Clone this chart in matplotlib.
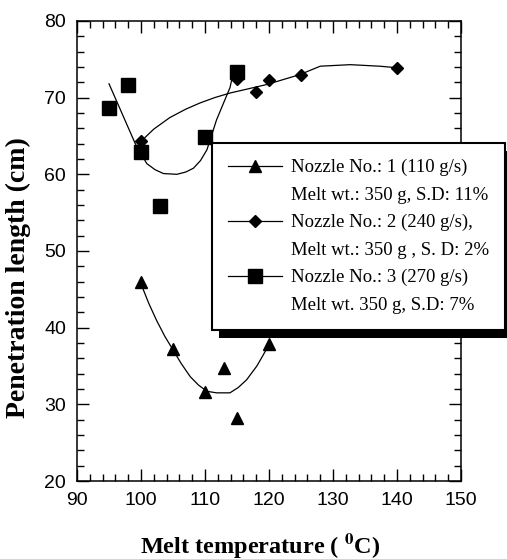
import matplotlib
matplotlib.use("Agg")
import matplotlib.pyplot as plt
from matplotlib.lines import Line2D
from matplotlib.patches import Rectangle
from matplotlib.transforms import IdentityTransform
from matplotlib.font_manager import FontProperties
from matplotlib.ticker import MultipleLocator

plt.rcParams['mathtext.fontset'] = 'stix'

# Nozzle 1 (triangles) - measured points and fitted curve
temp1 = [100, 105, 110, 113, 115, 120]
len1 = [46.0, 37.2, 31.6, 34.8, 28.2, 37.9]
fit1_x = [100, 101.2, 102.4, 103.7, 105, 106.3, 107.7, 109, 110.3, 111.8, 113.9, 115.2, 116.5, 118.1, 119, 120]
fit1_y = [45.7, 43.2, 41.0, 38.9, 37.1, 35.3, 33.6, 32.5, 31.7, 31.5, 31.5, 32.2, 33.2, 35.0, 36.3, 37.8]

# Nozzle 2 (diamonds)
temp2 = [100, 115, 118, 120, 125, 140]
len2 = [64.3, 72.4, 70.8, 72.3, 72.9, 73.9]
fit2_x = [100, 102, 104.5, 107, 109.2, 111.5, 113.9, 116.5, 119.6, 122, 124.8, 128, 132.7, 137.3, 140]
fit2_y = [64.3, 65.9, 67.4, 68.5, 69.3, 70.0, 70.6, 71.1, 71.7, 72.3, 73.0, 74.1, 74.3, 74.1, 73.9]

# Nozzle 3 (squares)
temp3 = [95, 98, 100, 103, 110, 115]
len3 = [68.7, 71.7, 62.9, 55.9, 64.9, 73.3]
fit3_x = [95, 97, 99.1, 100.9, 102.2, 103.5, 105.6, 107, 108.2, 109.3, 110.3, 111.8, 113.9, 114.3]
fit3_y = [71.8, 68.0, 64.0, 61.4, 60.6, 60.1, 60.0, 60.3, 60.8, 61.8, 63.2, 67.1, 71.3, 72.8]

labels = ["Nozzle No.: 1 (110 g/s)", "Melt wt.: 350 g, S.D: 11%",
          "Nozzle No.: 2 (240 g/s),", "Melt wt.: 350 g , S. D: 2%",
          "Nozzle No.: 3 (270 g/s)", "Melt wt. 350 g, S.D: 7%"]

fig = plt.figure(figsize=(5.07, 5.59), dpi=100)
ax = fig.add_axes([0.1519, 0.1395, 0.7574, 0.823])

lw = 0.9
ax.plot(fit1_x, fit1_y, color='black', lw=lw)
ax.plot(temp1, len1, ls='none', marker='^', ms=8, color='black')
ax.plot(fit2_x, fit2_y, color='black', lw=lw)
ax.plot(temp2, len2, ls='none', marker='D', ms=6.5, color='black')
ax.plot(fit3_x, fit3_y, color='black', lw=lw)
ax.plot(temp3, len3, ls='none', marker='s', ms=10.5, color='black')

ax.set_xlim(90, 150)
ax.set_ylim(20, 80)
ax.xaxis.set_major_locator(MultipleLocator(10))
ax.xaxis.set_minor_locator(MultipleLocator(2))
ax.yaxis.set_major_locator(MultipleLocator(10))
ax.yaxis.set_minor_locator(MultipleLocator(2))
ax.tick_params(which='both', direction='in', top=True, right=True, width=1.0)
ax.tick_params(which='major', length=8.5, pad=8)
ax.tick_params(which='minor', length=5)
for lab in ax.get_xticklabels() + ax.get_yticklabels():
    lab.set_fontfamily('Liberation Sans')
    lab.set_fontsize(14)
for sp in ax.spines.values():
    sp.set_linewidth(1.1)

ax.set_xlabel('Melt temperature ( $^{\\mathbf{0}}$C)', fontfamily='Liberation Serif',
              fontweight='bold', fontsize=17.5)
ax.set_ylabel('Penetration length (cm)', fontfamily='Liberation Serif',
              fontweight='bold', fontsize=20)
ax.xaxis.set_label_coords(0.477, -0.108)
ax.yaxis.set_label_coords(-0.12, 0.443)

# legend: marker rows + blank rows so the handle sits on the first line
blank = Line2D([], [], color='none')
handles = [Line2D([], [], color='black', lw=lw, marker='^', ms=8), blank,
           Line2D([], [], color='black', lw=lw, marker='D', ms=6.5), blank,
           Line2D([], [], color='black', lw=lw, marker='s', ms=10.5), blank]
leg = ax.legend(handles, labels, loc='upper left',
                bbox_to_anchor=(212 / 507, 1 - 143 / 559), bbox_transform=fig.transFigure,
                borderaxespad=0, prop=FontProperties(family='Liberation Serif', size=13.5),
                handlelength=2.9, handletextpad=0.45, labelspacing=0.55, borderpad=0.85,
                fancybox=False, edgecolor='black', framealpha=1)
leg.get_frame().set_linewidth(1.5)

# black drop shadow behind the legend box
fig.canvas.draw()
bb = leg.get_window_extent()
shadow = Rectangle((bb.x0 + 7, bb.y0 - 8), bb.width, bb.height, facecolor='black',
                   edgecolor='none', zorder=leg.get_zorder() - 0.1)
shadow.set_transform(IdentityTransform())
ax.add_artist(shadow)
shadow.set_clip_on(False)

fig.savefig('out.png', dpi=100)
